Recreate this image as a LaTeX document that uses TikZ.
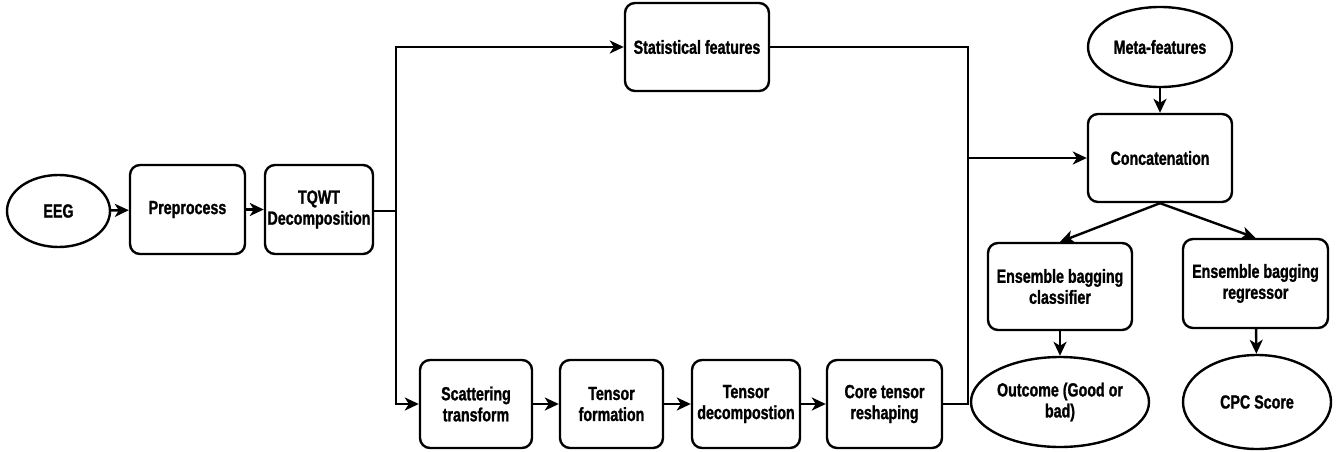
\documentclass[tikz,border=0pt]{standalone}
\usepackage{fontspec}
\setmainfont[FakeStretch=0.75,BoldFeatures={FakeBold=1.2}]{Liberation Sans}
\usetikzlibrary{shapes.geometric,arrows.meta}
\begin{document}
\begin{tikzpicture}[x=1pt,y=-1pt,
  every node/.style={font=\fontsize{19}{21}\selectfont\bfseries, align=center, inner sep=0pt},
  box/.style={draw, line width=2.4pt, rounded corners=10pt, rectangle},
  oval/.style={draw, line width=2.4pt, ellipse},
  conn/.style={line width=2.4pt},
  arr/.style={line width=2.4pt, -{Stealth[length=14pt,width=13pt,inset=4pt]}}]
\useasboundingbox (0,0) rectangle (1341,452);
% nodes
\node[oval, minimum width=103pt, minimum height=72pt] (eeg) at (58.5,211) {EEG};
\node[box, minimum width=115pt, minimum height=89pt] (pre) at (187.5,209.5) {Preprocess};
\node[box, minimum width=108pt, minimum height=89pt] (tqwt) at (319,209.5) {TQWT\\Decomposition};
\node[box, minimum width=144pt, minimum height=88pt] (stat) at (697,47) {Statistical features};
\node[box, minimum width=112pt, minimum height=88pt] (scat) at (476,404) {Scattering\\transform};
\node[box, minimum width=103pt, minimum height=88pt] (tform) at (611.5,404) {Tensor\\formation};
\node[box, minimum width=108pt, minimum height=88pt] (tdec) at (746,404) {Tensor\\decompostion};
\node[box, minimum width=115pt, minimum height=88pt] (core) at (884.5,404) {Core tensor\\reshaping};
\node[oval, minimum width=144pt, minimum height=80pt] (meta) at (1160,47) {Meta-features};
\node[box, minimum width=144pt, minimum height=88pt] (concat) at (1160,158) {Concatenation};
\node[box, minimum width=144pt, minimum height=87pt] (cls) at (1060,286.5) {Ensemble bagging\\classifier};
\node[box, minimum width=145pt, minimum height=89pt] (reg) at (1255.5,283.5) {Ensemble bagging\\regressor};
\node[oval, minimum width=144pt, minimum height=90pt] (out) at (1060,402) {Outcome (Good or\\bad)};
\node[oval, minimum width=148pt, minimum height=94pt] (cpc) at (1257,402) {CPC Score};
% junctions
\coordinate (sp) at (396,211);
\coordinate (jm) at (968,158);
% connectors
\draw[arr] (eeg) -- (pre);
\draw[arr] (pre) -- (tqwt);
\draw[conn] (tqwt.east |- sp) -- (sp);
\draw[arr] (sp) |- (stat.west);
\draw[arr] (sp) |- (scat.west);
\draw[arr] (scat) -- (tform);
\draw[arr] (tform) -- (tdec);
\draw[arr] (tdec) -- (core);
\draw[conn] (stat.east) -| (jm);
\draw[conn] (core.east) -| (jm);
\draw[arr] (jm) -- (concat.west);
\draw[arr] (meta) -- (concat);
\draw[arr] (concat.south) -- (cls.north);
\draw[arr] (concat.south) -- (reg.north);
\draw[arr] (cls) -- (out);
\draw[arr] (reg) -- (cpc);
\end{tikzpicture}
\end{document}
